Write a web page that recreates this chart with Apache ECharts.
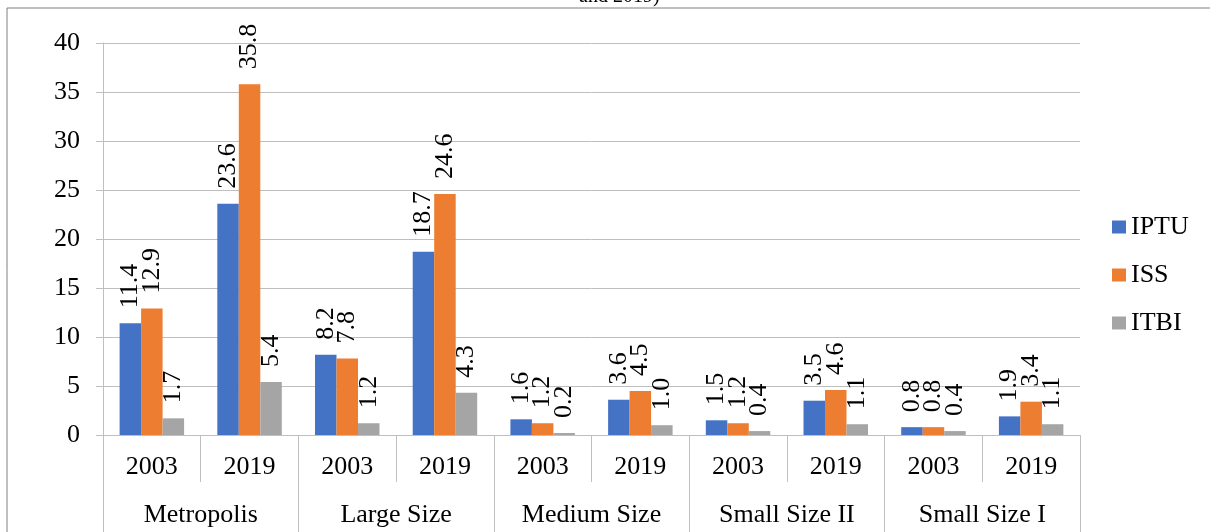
<!DOCTYPE html>
<html>
<head>
<meta charset="utf-8">
<script src="https://cdn.jsdelivr.net/npm/echarts@6/dist/echarts.min.js"></script>
<style>
  html, body { margin: 0; padding: 0; background: #fff; }
  #chart { width: 1210px; height: 532px; }
</style>
</head>
<body>
<div id="chart"></div>
<script>
  var years = ['2003', '2019', '2003', '2019', '2003', '2019', '2003', '2019', '2003', '2019']
  var groups = ['Metropolis', 'Large Size', 'Medium Size', 'Small Size II', 'Small Size I']
  var iptu = [11.4, 23.6, 8.2, 18.7, 1.6, 3.6, 1.5, 3.5, 0.8, 1.9]
  var iss = [12.9, 35.8, 7.8, 24.6, 1.2, 4.5, 1.2, 4.6, 0.8, 3.4]
  var itbi = [1.7, 5.4, 1.2, 4.3, 0.2, 1.0, 0.4, 1.1, 0.4, 1.1]

  var font = 'Liberation Serif, Times New Roman, serif'
  var lineColor = '#BFBFBF'

  function barSeries (name, data, color) {
    return {
      name: name,
      type: 'bar',
      data: data,
      barGap: 0,
      barCategoryGap: '34%',
      itemStyle: { color: color },
      label: {
        show: true,
        position: 'top',
        rotate: 90,
        align: 'left',
        verticalAlign: 'middle',
        distance: 15,
        fontFamily: font,
        fontSize: 26,
        color: '#000',
        formatter: function (p) { return p.value.toFixed(1) }
      }
    }
  }

  var chart = echarts.init(document.getElementById('chart'))
  var option = {
    animation: false,
    grid: { left: 103, right: 130, top: 43, bottom: 97 },
    graphic: [
      {
        type: 'rect',
        shape: { x: 7, y: 8, width: 1220, height: 540 },
        style: { fill: 'none', stroke: '#7f7f7f', lineWidth: 1 },
        silent: true
      },
      {
        type: 'text',
        left: 579,
        top: -13,
        style: { text: 'and 2019)', font: '20px ' + font, fill: '#000' }
      }
    ],
    legend: {
      orient: 'vertical',
      left: 1112,
      top: 214,
      padding: 0,
      itemWidth: 14,
      itemHeight: 13,
      itemGap: 22,
      icon: 'rect',
      textStyle: { fontFamily: font, fontSize: 26, color: '#000' },
      data: ['IPTU', 'ISS', 'ITBI']
    },
    xAxis: [
      {
        type: 'category',
        data: years,
        axisLine: { show: true, lineStyle: { color: lineColor } },
        axisTick: { show: true, interval: 0, length: 47, lineStyle: { color: lineColor } },
        axisLabel: { fontFamily: font, fontSize: 26, color: '#000', margin: 19 }
      },
      {
        type: 'category',
        data: groups,
        position: 'bottom',
        axisLine: { show: true, lineStyle: { color: lineColor } },
        axisTick: { show: true, interval: 0, length: 100, lineStyle: { color: lineColor } },
        axisLabel: { fontFamily: font, fontSize: 26, color: '#000', margin: 67 }
      }
    ],
    yAxis: {
      type: 'value',
      min: 0,
      max: 40,
      interval: 5,
      axisLine: { show: true, lineStyle: { color: lineColor } },
      axisTick: { show: true, length: 7, lineStyle: { color: lineColor } },
      splitLine: { lineStyle: { color: lineColor } },
      axisLabel: { fontFamily: font, fontSize: 26, color: '#000', margin: 23 }
    },
    series: [
      barSeries('IPTU', iptu, '#4472C4'),
      barSeries('ISS', iss, '#ED7D31'),
      barSeries('ITBI', itbi, '#A5A5A5')
    ]
  }
  chart.setOption(option)
</script>
</body>
</html>
